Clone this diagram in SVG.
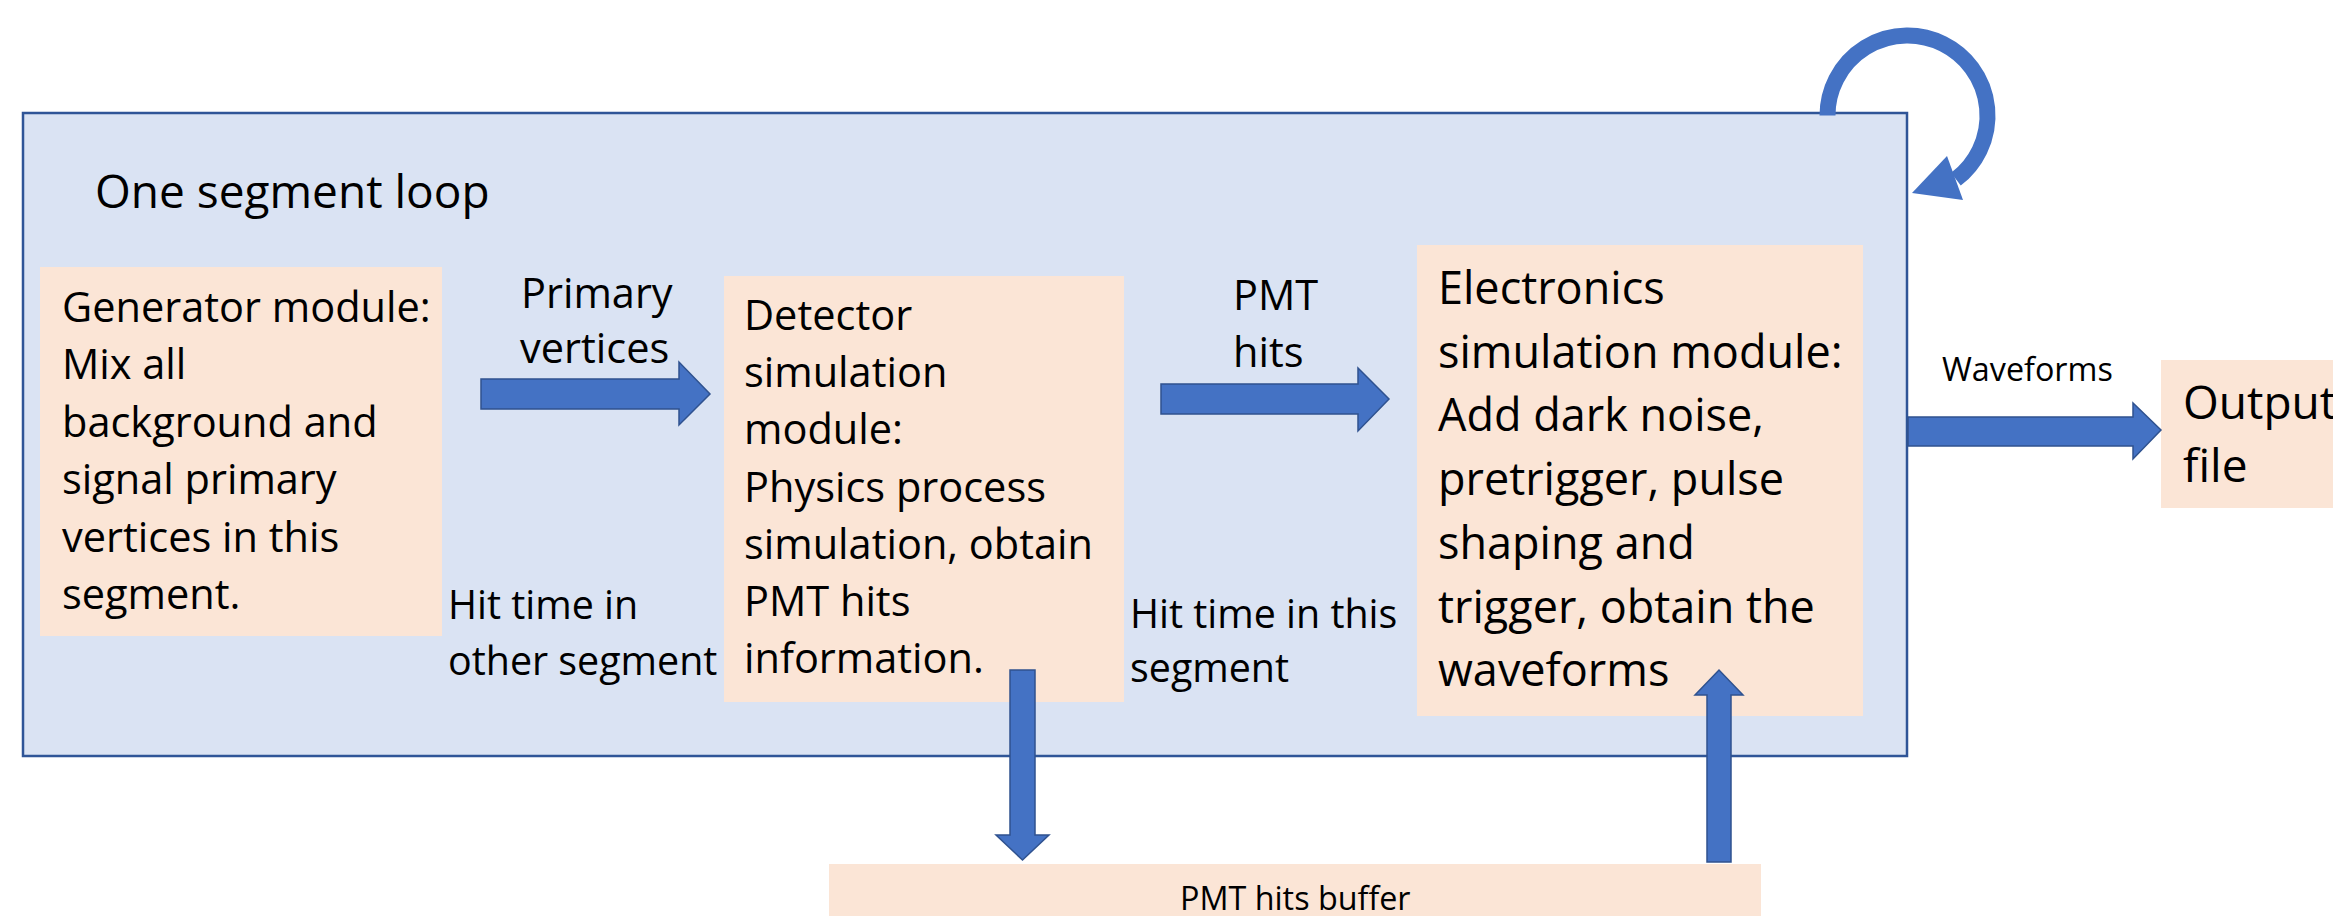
<svg xmlns="http://www.w3.org/2000/svg" width="2333" height="916" viewBox="0 0 2333 916">
<style>
.t{font-family:"Open Sans","Noto Sans","Liberation Sans",sans-serif;fill:#000}
.m{font-size:41.5px}
.l{font-size:39.4px}
.b{font-size:46px}
.e{font-size:45px}
.s{font-size:32.3px}
.node{fill:#FBE5D6}
.arr{fill:#4472C4;stroke:#2F528F;stroke-width:1.5}
</style>
<rect width="2333" height="916" fill="#fff"/>
<g id="segment-loop">
<rect x="23" y="113" width="1884" height="643" fill="#DAE3F3" stroke="#2F5597" stroke-width="2.5"/>
<text class="t b" x="95" y="208">One segment loop</text>
</g>
<g id="generator">
<rect class="node" x="40" y="267" width="402" height="369"/>
<text class="t m"><tspan x="62" y="321.5">Generator module:</tspan><tspan x="62" y="379">Mix all</tspan><tspan x="62" y="436.5">background and</tspan><tspan x="62" y="494">signal primary</tspan><tspan x="62" y="551.5">vertices in this</tspan><tspan x="62" y="609">segment.</tspan></text>
</g>
<g id="detector">
<rect class="node" x="724" y="276" width="400" height="426"/>
<text class="t m"><tspan x="744" y="330">Detector</tspan><tspan x="744" y="387">simulation</tspan><tspan x="744" y="444">module:</tspan><tspan x="744" y="502">Physics process</tspan><tspan x="744" y="559">simulation, obtain</tspan><tspan x="744" y="616">PMT hits</tspan><tspan x="744" y="673">information.</tspan></text>
</g>
<g id="electronics">
<rect class="node" x="1417" y="245" width="446" height="471"/>
<text class="t e"><tspan x="1438" y="304">Electronics</tspan><tspan x="1438" y="368">simulation module:</tspan><tspan x="1438" y="431">Add dark noise,</tspan><tspan x="1438" y="495">pretrigger, pulse</tspan><tspan x="1438" y="559">shaping and</tspan><tspan x="1438" y="623">trigger, obtain the</tspan><tspan x="1438" y="686">waveforms</tspan></text>
</g>
<g id="output">
<rect class="node" x="2161" y="360" width="180" height="148"/>
<text class="t b"><tspan x="2183" y="419">Output</tspan><tspan x="2183" y="482">file</tspan></text>
</g>
<g id="buffer">
<rect class="node" x="829" y="864" width="932" height="60"/>
<text class="t s" x="1180" y="910">PMT hits buffer</text>
</g>
<g id="connectors">
<polygon class="arr" points="481,379 679,379 679,362 710,394 679,425 679,409 481,409"/>
<polygon class="arr" points="1161,384 1358,384 1358,368 1389,399 1358,431 1358,414 1161,414"/>
<polygon class="arr" points="1908,417 2133,417 2133,403 2161,430 2133,459 2133,446 1908,446"/>
<polygon class="arr" points="1010,670 1035,670 1035,835 1049,835 1022.5,860 996,835 1010,835"/>
<polygon class="arr" points="1707,862 1707,695 1695,695 1719,670 1743,695 1731,695 1731,862"/>
<path d="M1827.5,115.5 A80,80 0 1 1 1955.9,179.2" fill="none" stroke="#4472C4" stroke-width="16"/>
<polygon points="1947,156 1963,200 1912,193" fill="#4472C4"/>
<text class="t m"><tspan x="521" y="308">Primary</tspan><tspan x="520" y="363">vertices</tspan></text>
<text class="t m"><tspan x="1233" y="310">PMT</tspan><tspan x="1233" y="367">hits</tspan></text>
<text class="t l"><tspan x="448" y="619">Hit time in</tspan><tspan x="448" y="675">other segment</tspan></text>
<text class="t l"><tspan x="1130" y="628">Hit time in this</tspan><tspan x="1130" y="682">segment</tspan></text>
<text class="t s" x="1942" y="381">Waveforms</text>
</g>
</svg>
